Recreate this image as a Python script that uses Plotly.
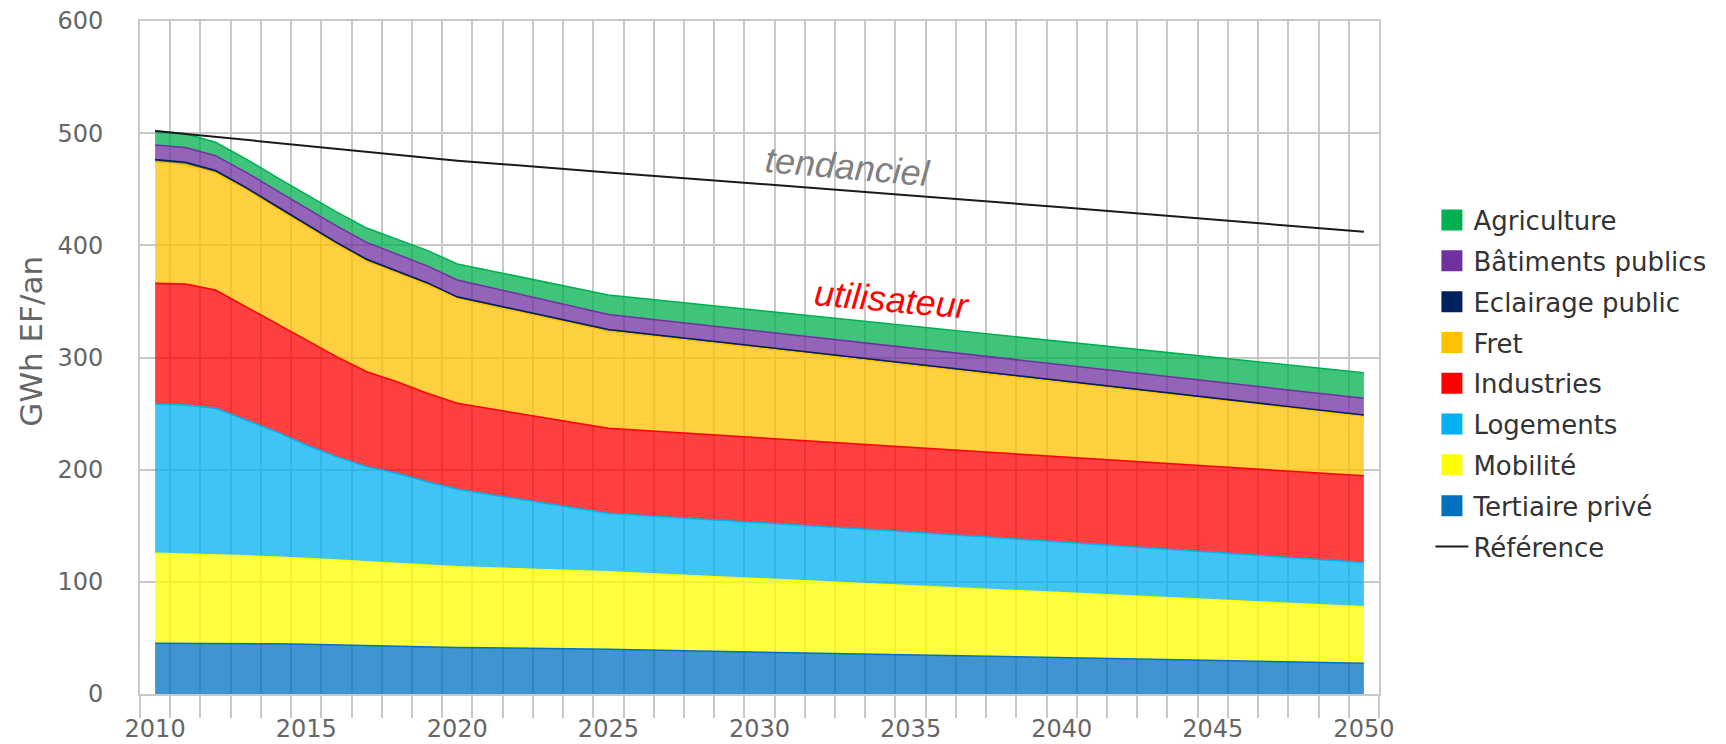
import plotly.graph_objects as go

# years (yearly up to 2020, then every 5 years)
years = [2010, 2011, 2012, 2013, 2014, 2015, 2016, 2017, 2018, 2019, 2020,
         2025, 2030, 2035, 2040, 2045, 2050]

# GWh EF/an per sector (stacked from bottom to top)
tertiaire = [45.2, 45.2, 45.2, 45.0, 44.8, 44.3, 43.8, 43.2, 42.5, 42.0, 41.5,
             39.8, 37.3, 34.9, 32.4, 30.0, 27.5]
mobilite = [80.2, 79.6, 79.0, 78.2, 77.3, 76.7, 75.7, 74.8, 74.0, 73.0, 72.0,
            69.2, 65.5, 61.6, 57.9, 54.0, 50.3]
logements = [133.1, 132.8, 130.5, 121.1, 111.8, 101.0, 92.1, 84.7, 80.3, 74.3, 69.0,
             52.1, 50.2, 48.0, 45.2, 42.5, 39.4]
industries = [107.6, 107.9, 105.5, 101.0, 96.6, 93.6, 89.1, 84.6, 81.6, 78.8, 76.7,
              75.8, 75.4, 75.4, 75.9, 76.5, 77.3]
fret = [108.4, 106.5, 104.5, 104.5, 102.9, 101.5, 100.1, 98.6, 97.1, 97.0, 93.3,
        86.6, 80.0, 73.3, 66.7, 59.9, 53.2]
eclairage = [2.0, 2.0, 2.0, 1.9, 1.9, 1.8, 1.8, 1.7, 1.7, 1.6, 1.6,
             1.5, 1.4, 1.3, 1.2, 1.1, 1.0]
batiments = [13.0, 13.2, 13.2, 13.6, 14.0, 14.4, 14.8, 15.0, 15.0, 15.0, 15.0,
             13.4, 13.7, 14.0, 14.3, 14.6, 14.9]
agriculture = [12.7, 12.3, 12.0, 11.8, 11.8, 12.0, 12.4, 12.8, 13.3, 13.8, 14.3,
               17.3, 18.4, 19.5, 20.6, 21.7, 22.9]

# trend ("tendanciel") reference line
ref_years = [2010, 2015, 2020, 2025, 2030, 2035, 2040, 2045, 2050]
reference = [502, 489, 475.5, 465, 455, 444.5, 434, 423, 412]

# stack order bottom -> top
stack = [
    ("Tertiaire privé", tertiaire, "#0070C0"),
    ("Mobilité", mobilite, "#FFFF00"),
    ("Logements", logements, "#00B0F0"),
    ("Industries", industries, "#FF0000"),
    ("Fret", fret, "#FFC000"),
    ("Eclairage public", eclairage, "#002060"),
    ("Bâtiments publics", batiments, "#7030A0"),
    ("Agriculture", agriculture, "#00B050"),
]


def rgba(hex_color, alpha):
    h = hex_color.lstrip("#")
    r, g, b = int(h[0:2], 16), int(h[2:4], 16), int(h[4:6], 16)
    return f"rgba({r},{g},{b},{alpha})"


fig = go.Figure()

# legend entries (alphabetical like the original), solid squares
for name, _, color in sorted(stack, key=lambda s: s[0]):
    fig.add_trace(go.Scatter(
        x=[None], y=[None], mode="markers", name=name, legendgroup=name,
        marker=dict(symbol="square", size=16, color=color,
                    line=dict(color=color, width=5)),
    ))

# stacked areas
for name, values, color in stack:
    fig.add_trace(go.Scatter(
        x=years, y=values, name=name, legendgroup=name, showlegend=False,
        stackgroup="one", mode="lines",
        line=dict(color=color, width=1.5),
        fillcolor=rgba(color, 0.75),
    ))

fig.add_trace(go.Scatter(
    x=ref_years, y=reference, name="Référence", legendgroup="ref",
    mode="lines", line=dict(color="#1a1a1a", width=2),
))

grid = "#c8c8c8"
tick_font = dict(family="DejaVu Sans", size=24, color="#666666")

fig.add_annotation(
    x=2032.9, y=470, text="tendanciel", showarrow=False, textangle=5,
    font=dict(family="Liberation Sans", size=36, color="#808080", style="italic"),
)
fig.add_annotation(
    x=2034.4, y=352, text="utilisateur", showarrow=False, textangle=5,
    font=dict(family="Liberation Sans", size=36, color="#ff0000", style="italic"),
)
# y axis title, sits a bit above the middle of the axis in the original
fig.add_annotation(
    xref="paper", yref="paper", x=-0.088, y=0.525, text="GWh EF/an",
    showarrow=False, textangle=-90, xanchor="center", yanchor="middle",
    font=dict(family="DejaVu Sans", size=31, color="#666666"),
)

# the page body keeps its default 8px margin, so the figure starts at (8, 8)
fig.update_layout(
    width=1718, height=736,
    margin=dict(l=132, r=347, t=13, b=50, autoexpand=False),
    plot_bgcolor="white", paper_bgcolor="white",
    showlegend=True,
    legend=dict(
        x=1.0415, y=0.739, xanchor="left", yanchor="top",
        font=dict(family="DejaVu Sans", size=26, color="#333333"),
        tracegroupgap=4, itemwidth=33,
        bgcolor="rgba(0,0,0,0)",
    ),
    xaxis=dict(
        range=[2009.5, 2050.5], tickmode="linear", tick0=2010, dtick=5,
        ticks="outside", ticklen=12, tickcolor="rgba(0,0,0,0)",
        showgrid=False, zeroline=False, automargin=False,
        ticklabeloverflow="allow",
        showline=True, linecolor=grid, linewidth=2, mirror=True,
        tickfont=tick_font,
        minor=dict(tickmode="linear", tick0=2009.5, dtick=1, showgrid=True,
                   gridcolor=grid, gridwidth=2, ticks="outside", ticklen=22,
                   tickcolor=grid, tickwidth=2),
    ),
    yaxis=dict(
        range=[0, 600], tickmode="linear", tick0=0, dtick=100,
        showgrid=True, gridcolor=grid, gridwidth=2, zeroline=False,
        automargin=False, ticklabeloverflow="allow",
        showline=True, linecolor=grid, linewidth=2, mirror=True,
        ticks="outside", ticklen=30, tickcolor="rgba(0,0,0,0)",
        tickfont=tick_font,
    ),
)

fig.write_html("out.html")
